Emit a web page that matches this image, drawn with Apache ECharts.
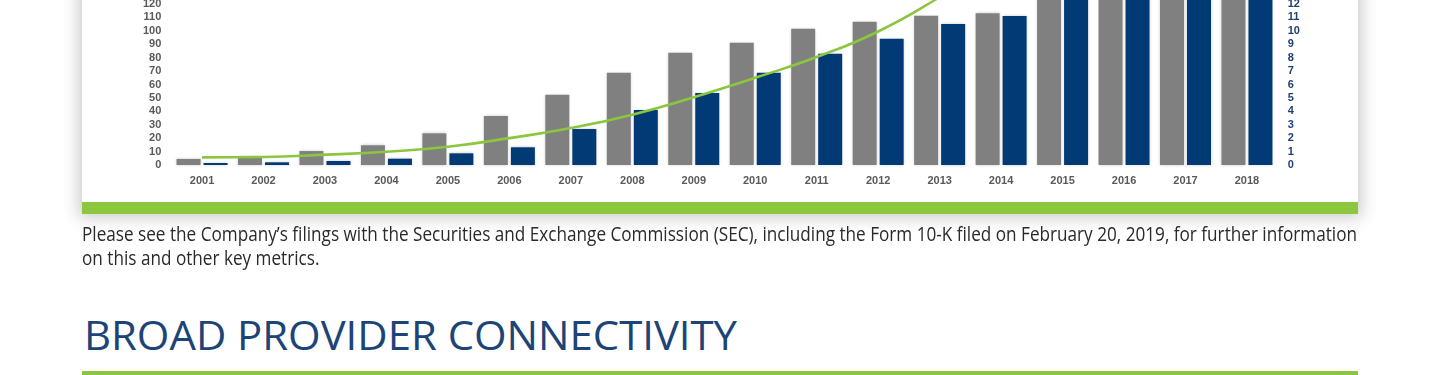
<!DOCTYPE html>
<html><head><meta charset="utf-8">
<script src="https://cdn.jsdelivr.net/npm/echarts@6/dist/echarts.min.js"></script>
<style>
html,body{margin:0;padding:0;width:1440px;height:375px;overflow:hidden;background:#fff;}
#card{position:absolute;left:82px;top:-60px;width:1276px;height:274px;background:#fff;box-shadow:0 0 16px 3px rgba(0,0,0,0.22);}
#gbar{position:absolute;left:82px;top:202px;width:1276px;height:12px;background:#8dc63f;}
#chart{position:absolute;left:0;top:-100px;width:1440px;height:400px;}
.txt{position:absolute;left:82px;top:0;white-space:nowrap;transform-origin:0 0;font-family:"Open Sans";line-height:1.2;}
#l1,#l2{color:#2a2a2a;font-size:19.5px;}
#h{color:#1d4477;font-size:39.6px;left:84px;}
#rule{position:absolute;left:82px;top:371px;width:1276px;height:4px;background:#8dc63f;}
</style></head>
<body>
<div id="card"></div>
<div id="gbar"></div>
<div id="chart"></div>
<div class="txt" id="l1">Please see the Company’s filings with the Securities and Exchange Commission (SEC), including the Form 10-K filed on February 20, 2019, for further information</div>
<div class="txt" id="l2">on this and other key metrics.</div>
<div class="txt" id="h">BROAD PROVIDER CONNECTIVITY</div>
<div id="rule"></div>
<script>
const categories = ['2001','2002','2003','2004','2005','2006','2007','2008','2009','2010','2011','2012','2013','2014','2015','2016','2017','2018'];
const grayValues = [4.5, 6.2, 10.4, 14.7, 23.6, 36.5, 52.4, 68.8, 83.7, 91.1, 101.6, 106.8, 111.3, 113.0, 130, 136, 142, 148];
const blueValues = [0.15, 0.2, 0.3, 0.47, 0.87, 1.32, 2.68, 4.1, 5.37, 6.88, 8.29, 9.41, 10.5, 11.1, 13.0, 13.8, 14.5, 15.3];
const greenValues = [0.57, 0.6, 0.77, 0.99, 1.36, 2.0, 2.75, 3.75, 5.05, 6.5, 8.05, 9.95, 12.5, 15.3, 18.4, 21.8, 25.5, 29.5];

const chart = echarts.init(document.getElementById('chart'), null, {renderer:'canvas'});
const lbl = {fontSize:11, fontWeight:'bold', fontFamily:'Liberation Sans, Arial, sans-serif'};
chart.setOption({
  animation:false,
  backgroundColor:'transparent',
  grid:{left:171.3, right:162.3, top:63.7, bottom:135, containLabel:false},
  xAxis:{type:'category', data:categories, axisLine:{show:false}, axisTick:{show:false},
    axisLabel:Object.assign({color:'#5a5a5a', margin:10}, lbl)},
  yAxis:[
    {type:'value', min:0, max:150, interval:10, splitLine:{show:false}, axisLine:{show:false}, axisTick:{show:false},
      axisLabel:Object.assign({color:'#5a5a5a', margin:10}, lbl)},
    {type:'value', position:'right', min:0, max:15, interval:1, splitLine:{show:false}, axisLine:{show:false}, axisTick:{show:false},
      axisLabel:Object.assign({color:'#1f3f73', margin:10}, lbl)}
  ],
  series:[
    {type:'bar', yAxisIndex:0, data:grayValues, barWidth:24, barGap:'12.5%',
      itemStyle:{color:'#808080', shadowBlur:3, shadowColor:'rgba(0,0,0,0.22)'}},
    {type:'bar', yAxisIndex:1, data:blueValues, barWidth:24, barGap:'12.5%',
      itemStyle:{color:'#023a76', shadowBlur:3, shadowColor:'rgba(0,0,0,0.22)'}},
    {type:'line', yAxisIndex:1, data:greenValues, smooth:true, symbol:'none', z:5,
      lineStyle:{color:'#8cc63f', width:2.6}}
  ]
});

function place(id, baseline, width){
  const el = document.getElementById(id);
  el.style.transform = 'none';
  let m = el.querySelector('.mk');
  if(!m){ m = document.createElement('span'); m.className='mk';
    m.style.cssText='display:inline-block;width:0;height:0;vertical-align:baseline;'; el.appendChild(m); }
  const off = m.offsetTop;
  el.style.top = (baseline - off) + 'px';
  if(width){ const w = el.getBoundingClientRect().width; el.style.transform = 'scaleX(' + (width / w) + ')'; }
}
function layoutText(){
  place('l1', 241, 1275);
  place('l2', 265, null);
  const s = document.getElementById('l1').style.transform;
  document.getElementById('l2').style.transform = s;
  place('h', 350, 653);
}
layoutText();
if(document.fonts && document.fonts.ready){ document.fonts.ready.then(layoutText); }
</script>
</body></html>
